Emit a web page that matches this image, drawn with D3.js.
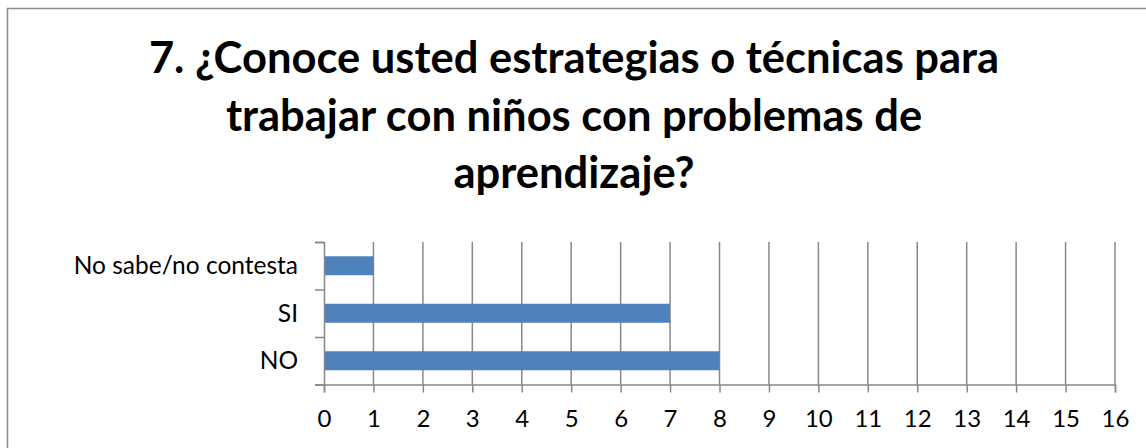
<!DOCTYPE html>
<html><head><meta charset="utf-8">
<script src="https://cdn.jsdelivr.net/npm/d3@7"></script>
<style>body{margin:0;background:#fff;} svg{display:block;}</style>
</head><body>
<svg id="c" width="1146" height="448"></svg>
<script>
const categories = ["No sabe/no contesta", "SI", "NO"];
const values = [1, 7, 8];
const xTicks = d3.range(0, 17);
const titleLines = ["7. ¿Conoce usted estrategias o técnicas para", "trabajar con niños con problemas de", "aprendizaje?"];

const svg = d3.select("#c");
const W = 1146, H = 448;
const FONT = "Lato, 'Open Sans', sans-serif";
svg.append("rect").attr("x", 7.5).attr("y", 8.5).attr("width", W + 20).attr("height", H + 20)
  .attr("fill", "#fff").attr("stroke", "#8c8c8c").attr("stroke-width", 1.5);

const x = d3.scaleLinear().domain([0, 16]).range([324, 1115]);
const y = d3.scaleBand().domain(categories).range([242, 384.5]).paddingInner(0.6).paddingOuter(0.3);

// title
const tg = svg.append("g");
titleLines.forEach((t, i) => {
  tg.append("text").attr("x", 574).attr("y", 73 + i * 57.5).attr("text-anchor", "middle")
    .attr("font-family", FONT).attr("font-weight", "bold").attr("font-size", 43.5).attr("fill", "#000").text(t);
});

// gridlines
svg.append("g").selectAll("line").data(xTicks.slice(1)).join("line")
  .attr("x1", d => x(d)).attr("x2", d => x(d)).attr("y1", 242).attr("y2", 384.5)
  .attr("stroke", "#888").attr("stroke-width", 1.5);

// bars
svg.append("g").selectAll("rect").data(categories).join("rect")
  .attr("x", x(0)).attr("y", d => y(d)).attr("width", (d, i) => x(values[i]) - x(0)).attr("height", y.bandwidth())
  .attr("fill", "#4f81bd");

// x axis
const xa = svg.append("g").attr("transform", "translate(0,384.5)")
  .call(d3.axisBottom(x).tickValues(xTicks).tickSize(8).tickPadding(10).tickFormat(d3.format("d")));
xa.select(".domain").attr("stroke", "#888").attr("stroke-width", 1.5);
xa.selectAll(".tick line").attr("stroke", "#888").attr("stroke-width", 1.5);
xa.selectAll("text").attr("font-family", FONT).attr("font-size", 24).attr("fill", "#000").attr("dy", null).attr("y", 42.5);

// y axis
const ya = svg.append("g").attr("transform", "translate(324,0)")
  .call(d3.axisLeft(d3.scaleLinear().domain([0, 3]).range([384.5, 242])).ticks(3).tickSize(9).tickFormat(""));
ya.select(".domain").attr("stroke", "#888").attr("stroke-width", 1.5);
ya.selectAll(".tick line").attr("stroke", "#888").attr("stroke-width", 1.5);

svg.append("g").selectAll("text").data(categories).join("text")
  .attr("x", 298).attr("y", d => y(d) + y.bandwidth() / 2).attr("dy", "0.35em").attr("text-anchor", "end")
  .attr("font-family", FONT).attr("font-size", 24.5).attr("fill", "#000").text(d => d);
</script>
</body></html>
